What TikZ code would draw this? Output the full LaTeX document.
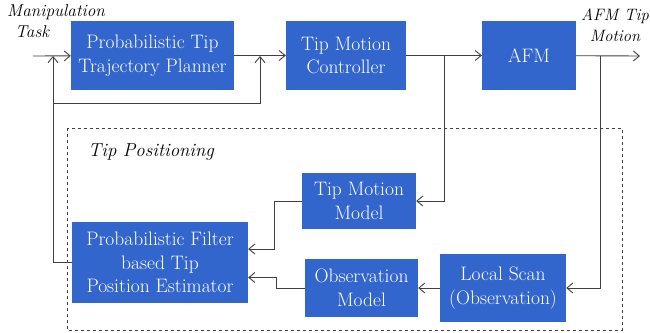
\documentclass[tikz,border=0pt]{standalone}
\usepackage{xcolor}
\usepackage{tikz}
\usetikzlibrary{calc,arrows.meta}

\definecolor{boxblue}{RGB}{51,102,204}
\definecolor{wire}{RGB}{64,64,64}

\begin{document}
\begin{tikzpicture}[x=1pt,y=-1pt,
        block/.style={fill=boxblue,text=white,align=center,inner sep=0pt,
            font=\fontsize{19.5}{23.5}\selectfont},
        flow/.style={-{Straight Barb[length=6pt,width=10pt]},wire,line width=0.9pt},
        tag/.style={font=\fontsize{17.2}{21}\selectfont\itshape,inner sep=0pt}]

        \useasboundingbox (0,0) rectangle (650,332);

        \coordinate (in) at (33,56); %task input
        \coordinate (out) at (640,56);
        \coordinate (fb) at (53,103);
        \coordinate (j1) at (53,56);
        \coordinate (j2) at (260,56);
        \coordinate (b1) at (444,56);
        \coordinate (b2) at (600,56);

            \draw[dashed,wire,line width=0.7pt] (67,128) rectangle (622,330);

            \node[block,minimum width=163,minimum height=69] (planner) at (152.5,55.5)
                {Probabilistic Tip\\Trajectory Planner};
            \node[block,minimum width=120,minimum height=69] (ctrl) at (346,55.5)
                {Tip Motion\\Controller};
            \node[block,minimum width=94,minimum height=69] (afm) at (529,55.5) {AFM};

            \node[block,minimum width=114,minimum height=56] (tmm) at (359,201)
                {Tip Motion\\Model};
            \node[block,minimum width=176,minimum height=81] (filter) at (160,262.5)
                {Probabilistic Filter\\based Tip\\Position Estimator};
            \node[block,minimum width=113,minimum height=58] (obs) at (361.5,288)
                {Observation\\Model};
            \node[block,minimum width=126,minimum height=68] (scan) at (503,288)
                {Local Scan\\(Observation)};

            \node[tag,align=left,anchor=north west] (task) at (7,4)
                {Manipulation\\\hspace{8pt}Task};
            \node[tag,align=center,font=\fontsize{16.5}{21}\selectfont\itshape] (motion) at (615,25)
                {AFM Tip\\Motion};
            \node[tag,anchor=west,font=\fontsize{18.8}{23}\selectfont\itshape] (pos) at (88,152)
                {Tip Positioning};

            % forward path
            \draw[flow] (in) -- (planner);
            \draw[flow] (planner) -- (ctrl);
            \draw[flow] (ctrl) -- (afm);
            \draw[flow] (afm) -- (out);

            % feedback from estimator
            \draw[flow] (filter.west) -| (j1);
            \draw[flow] (fb) -| (j2);

            \draw[flow] (b1) |- (tmm.east);
            \draw[flow] (b2) |- (scan.east);
            \draw[flow] (scan) -- (obs);

            \draw[flow] (tmm.west) -- ++(-27,0) |- ([yshift=13.5pt]filter.east);
            \draw[flow] (obs.west) -- ++(-28,0) |- ([yshift=-15pt]filter.east);

\end{tikzpicture}
\end{document}
